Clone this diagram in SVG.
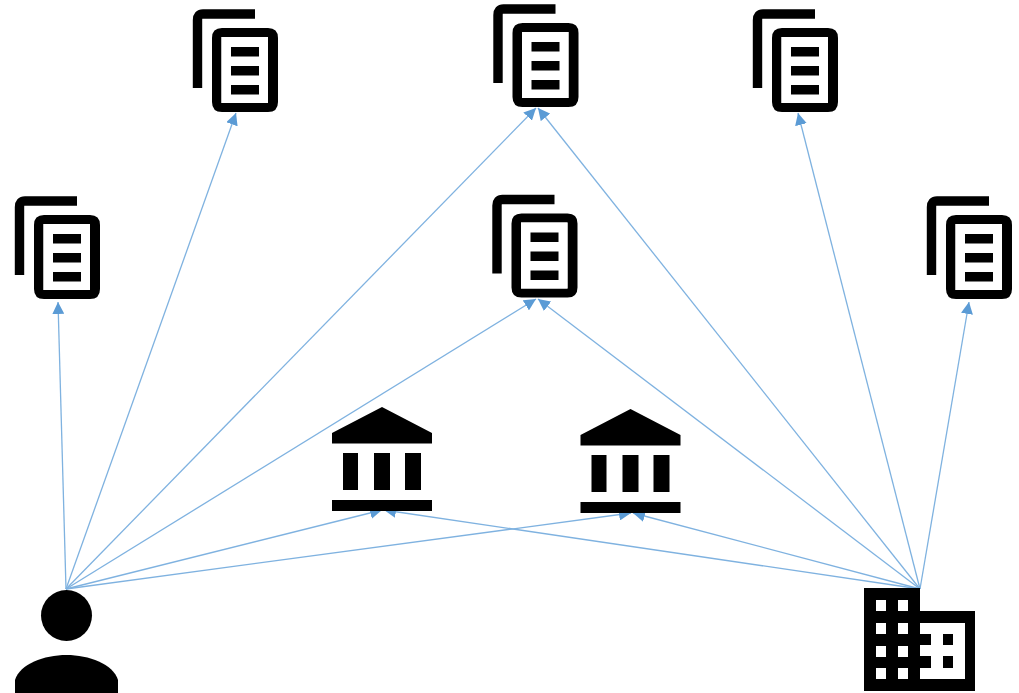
<svg xmlns="http://www.w3.org/2000/svg" xmlns:xlink="http://www.w3.org/1999/xlink" width="1019" height="693" viewBox="0 0 1019 693">
<style>
.c{fill:none;stroke:#7fb2e0;stroke-width:1.3;marker-end:url(#a)}
.k{fill:#000}
</style>
<defs>
<marker id="a" viewBox="0 0 10 10" refX="10" refY="5" markerWidth="12" markerHeight="12" markerUnits="userSpaceOnUse" orient="auto"><path d="M0 0L10 5L0 10Z" fill="#5b9bd5" stroke="none"/></marker>
<g id="doc">
<path d="M4.500 79V11Q4.500 5 10 5H62" fill="none" stroke="#000" stroke-width="9.400"/>
<path class="k" fill-rule="evenodd" d="M29 19H75Q85 19 85 29V93Q85 103 75 103H29Q19 103 19 93V29Q19 19 29 19ZM28.500 28V94H75V28Z"/>
<rect x="28.500" y="28" width="46.500" height="66" fill="#fff"/>
<path class="k" d="M38 38h28v9.400H38zM38 57h28v9.400H38zM38 76h28v9.400H38z"/>
</g>
<g id="bank">
<path class="k" d="M50 0L100 26V36.500H0V26ZM11 46H26V83H11ZM42 46H58V83H42ZM73 46H89V83H73ZM0 93H100V104H0Z"/>
</g>
</defs>
<rect width="1019" height="693" fill="#fff"/>
<g id="connectors">
<path class="c" d="M66 589L58 302"/>
<path class="c" d="M66 589L236 113"/>
<path class="c" d="M66 589L536 108"/>
<path class="c" d="M66 589L536 299"/>
<path class="c" d="M66 589L382 510"/>
<path class="c" d="M66 589L631 513"/>
<path class="c" d="M920 589L538 108"/>
<path class="c" d="M920 589L538 299"/>
<path class="c" d="M920 589L798 113"/>
<path class="c" d="M920 589L969 302"/>
<path class="c" d="M920 589L384 510"/>
<path class="c" d="M920 589L633 513"/>
</g>
<use id="doc-1" xlink:href="#doc" href="#doc" x="15" y="196"/>
<use id="doc-2" xlink:href="#doc" href="#doc" x="193" y="9"/>
<use id="doc-3" xlink:href="#doc" href="#doc" x="493.500" y="4"/>
<use id="doc-4" xlink:href="#doc" href="#doc" x="492.500" y="194.500"/>
<use id="doc-5" xlink:href="#doc" href="#doc" x="753" y="9"/>
<use id="doc-6" xlink:href="#doc" href="#doc" x="927" y="196"/>
<use id="bank-1" xlink:href="#bank" href="#bank" x="332" y="407"/>
<use id="bank-2" xlink:href="#bank" href="#bank" x="580.500" y="409"/>
<g id="person">
<circle class="k" cx="66.500" cy="615.500" r="25.500"/>
<path class="k" d="M15 693V680C20 664 44 655 66.500 655C89 655 113 664 118 680V693Z"/>
</g>
<g id="building">
<path class="k" fill-rule="evenodd" d="M864 588H920V611H975V691H864ZM876 600V611H886V600ZM898 600V611H908V600ZM876 623V634H886V623ZM898 623V634H908V623ZM876 646V657H886V646ZM898 646V657H908V646ZM876 668V679H886V668ZM898 668V679H908V668ZM920 623V634H931V645H920V656H931V668H920V679H965V623ZM943 634V645H953V634ZM943 656V668H953V656Z"/>
</g>
</svg>
